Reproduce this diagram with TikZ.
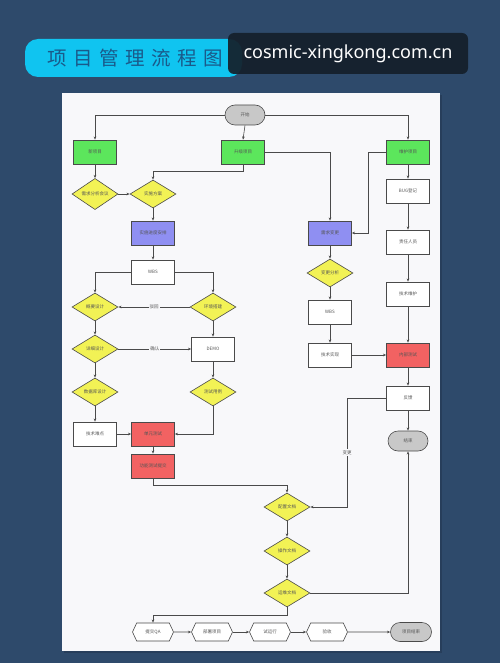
\documentclass[tikz,border=0pt]{standalone}
\usepackage{fontspec}
\newfontfamily\cjk{Noto Sans CJK SC}
\newfontfamily\urlfont{Noto Sans}
\usetikzlibrary{shapes.geometric,shapes.misc,shapes.symbols,arrows.meta}
\definecolor{bgc}{HTML}{2E4A6B}
\definecolor{panel}{HTML}{F8F8FA}
\definecolor{grnc}{HTML}{5CE65C}
\definecolor{bluc}{HTML}{8F8FF2}
\definecolor{yelc}{HTML}{F2F255}
\definecolor{redc}{HTML}{F26262}
\definecolor{gryc}{HTML}{C8C8C8}
\definecolor{linec}{HTML}{4A4A4A}
\definecolor{txtc}{HTML}{555555}
\definecolor{cyanc}{HTML}{10C4F0}
\definecolor{darkc}{HTML}{15202B}
\definecolor{titc}{HTML}{1A5A8A}
\begin{document}
\begin{tikzpicture}[x=1pt,y=-1pt,
  base/.style={draw=linec,line width=0.6pt,font=\cjk\fontsize{4.5}{5}\selectfont,text=txtc,inner sep=0pt},
  proc/.style={base,rectangle,fill=white,minimum width=43pt,minimum height=24pt},
  grn/.style={proc,fill=grnc},
  blu/.style={proc,fill=bluc},
  rd/.style={proc,fill=redc},
  dia/.style={base,diamond,fill=yelc,minimum width=46pt,minimum height=28pt},
  term/.style={base,rounded rectangle,fill=gryc,minimum width=40pt,minimum height=20pt},
  hexa/.style={base,signal,signal to=west and east,signal pointer angle=130,fill=white,minimum width=41pt,minimum height=18pt},
  arr/.style={draw=linec,line width=0.6pt,-{Stealth[length=3.2pt,width=2.6pt]}},
  lab/.style={font=\cjk\fontsize{4.5}{5}\selectfont,text=txtc,fill=panel,inner sep=1pt}
]
\fill[bgc] (0,0) rectangle (500,663);
\useasboundingbox (0,0) rectangle (500,663);
% title
\fill[cyanc] (25,39) [rounded corners=13pt] rectangle (242,77);
\node[font=\cjk\fontsize{19.5}{19.5}\selectfont,text=titc,anchor=west] (title) at (44,58) {项\hspace{6.5pt}目\hspace{6.5pt}管\hspace{6.5pt}理\hspace{6.5pt}流\hspace{6.5pt}程\hspace{6.5pt}图};
\fill[darkc,opacity=0.93,rounded corners=6pt] (228,33) rectangle (468,74);
\node[font=\urlfont\fontsize{18}{18}\selectfont,text=white] (url) at (348,54) {cosmic-xingkong.com.cn};
% panel
\fill[black,opacity=0.15] (64,95) rectangle (442,653);
\fill[panel] (62,93) rectangle (440,651);
% nodes
\node[term] (start) at (245,115) {开始};
\node[grn] (new) at (95,152) {新项目};
\node[grn] (upg) at (243,152) {升级项目};
\node[grn] (mnt) at (408,152) {维护项目};
\node[dia] (meet) at (95,194) {需求分析会议};
\node[dia] (plan) at (153,194) {实施方案};
\node[blu] (sched) at (153,233) {实施进度安排};
\node[proc] (wbsa) at (153,272) {WBS};
\node[dia] (outl) at (95,307) {概要设计};
\node[dia] (env) at (213,307) {环境搭建};
\node[dia] (detl) at (95,349) {详细设计};
\node[proc] (demo) at (213,349) {DEMO};
\node[dia] (dbd) at (95,392) {数据库设计};
\node[dia] (tcase) at (213,392) {测试用例};
\node[proc] (tech) at (95,434) {技术难点};
\node[rd] (unit) at (153,434) {单元测试};
\node[rd] (func) at (153,466) {功能测试提交};
\node[blu] (chg) at (330,233) {需求变更};
\node[dia] (chga) at (330,273) {变更分析};
\node[proc] (wbsb) at (330,312) {WBS};
\node[proc] (impl) at (330,355) {技术实现};
\node[proc] (bug) at (408,191) {BUG登记};
\node[proc] (resp) at (408,242) {责任人员};
\node[proc] (tmnt) at (408,294) {技术维护};
\node[rd] (intt) at (408,355) {内部测试};
\node[proc] (fb) at (408,398) {反馈};
\node[term] (end) at (408,441) {结束};
\node[dia] (cfg) at (287,507) {配置文档};
\node[dia] (opd) at (287,551) {操作文档};
\node[dia] (omd) at (287,593) {运维文档};
\node[hexa] (qa) at (153,632) {提交QA};
\node[hexa] (dep) at (212,632) {部署项目};
\node[hexa] (trial) at (270,632) {试运行};
\node[hexa] (acc) at (327,632) {验收};
\node[term,minimum width=41pt,minimum height=19pt] (fin) at (411,632) {项目结束};
% connectors
\draw[arr] (start.west) -| (new.north);
\draw[arr] (start.south) -- (upg.north);
\draw[arr] (start.east) -| (mnt.north);
\draw[arr] (new) -- (meet);
\draw[arr] (meet) -- (plan);
\draw[arr] (upg.south) -- ++(0,7) -| (plan.north);
\draw[arr] (upg.east) -| (chg.north);
\draw[arr] (mnt.west) -- ++(-18,0) |- (chg.east);
\draw[arr] (plan) -- (sched);
\draw[arr] (sched) -- (wbsa);
\draw[arr] (wbsa.west) -| (outl.north);
\draw[arr] (wbsa.east) -| (env.north);
\draw[arr] (env.west) -- node[lab] {驳回} (outl.east);
\draw[arr] (outl) -- (detl);
\draw[arr] (detl.east) -- node[lab] {确认} (demo.west);
\draw[arr] (env) -- (demo);
\draw[arr] (demo) -- (tcase);
\draw[arr] (detl) -- (dbd);
\draw[arr] (dbd) -- (tech);
\draw[arr] (tech) -- (unit);
\draw[arr] (tcase.south) |- (unit.east);
\draw[arr] (unit) -- (func);
\draw[arr] (func.south) -- ++(0,7) -| (cfg.north);
\draw[arr] (chg) -- (chga);
\draw[arr] (chga) -- (wbsb);
\draw[arr] (wbsb) -- (impl);
\draw[arr] (impl) -- (intt);
\draw[arr] (mnt) -- (bug);
\draw[arr] (bug) -- (resp);
\draw[arr] (resp) -- (tmnt);
\draw[arr] (tmnt) -- (intt);
\draw[arr] (intt) -- (fb);
\draw[arr] (fb) -- (end);
\draw[arr] (fb.west) -- ++(-39,0) |- node[lab,pos=0.25] {变更} (cfg.east);
\draw[arr] (cfg) -- (opd);
\draw[arr] (opd) -- (omd);
\draw[arr] (omd.east) -| (end.south);
\draw[arr] (omd.south) -- ++(0,8) -| (qa.north);
\draw[arr] (qa) -- (dep);
\draw[arr] (dep) -- (trial);
\draw[arr] (trial) -- (acc);
\draw[arr] (acc) -- (fin);
\end{tikzpicture}
\end{document}
